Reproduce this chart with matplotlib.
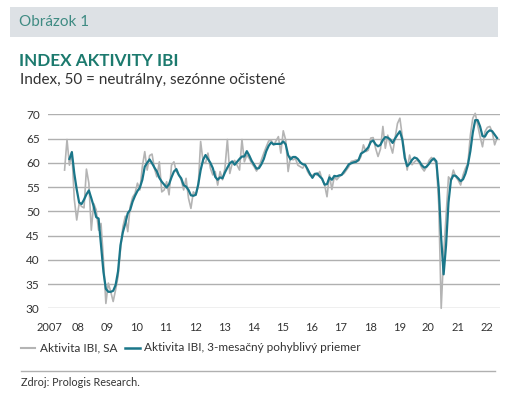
import numpy as np
import matplotlib
matplotlib.use("Agg")
import matplotlib.pyplot as plt
from matplotlib.lines import Line2D
from matplotlib.patches import Rectangle

W, H = 531, 415
plt.rcParams['font.family'] = ['Lato', 'DejaVu Sans']

# ---- data (months counted from Jan 2007 = 0) ----
sa_start_month = 6
sa_values = [
    58.5, 64.8, 59.5, 62.3, 52.5, 48.2,                     # 2007 Jul-Dec
    51.6, 51.0, 50.7, 58.7, 55.8, 46.1, 51.6, 50.3, 46.1, 47.5, 40.0, 31.0,   # 2008
    35.2, 33.4, 31.4, 33.8, 36.5, 42.0, 46.8, 49.0, 45.8, 51.0, 52.9, 53.7,   # 2009
    55.8, 54.4, 59.2, 62.3, 58.5, 61.5, 61.8, 58.8, 57.1, 60.2, 54.0, 54.4,   # 2010
    56.1, 53.4, 59.5, 60.2, 58.2, 57.5, 56.5, 54.4, 56.8, 52.7, 50.6, 54.0,   # 2011
    53.4, 55.1, 64.4, 60.2, 59.9, 62.0, 58.9, 57.5, 58.2, 55.4, 58.2, 56.5,   # 2012
    58.9, 64.8, 57.8, 59.9, 60.5, 59.5, 58.5, 64.8, 60.2, 61.6, 60.9, 59.9,   # 2013
    59.2, 58.3, 59.2, 60.6, 62.0, 63.3, 64.5, 64.7, 63.7, 64.5, 65.4, 62.0,   # 2014
    66.6, 64.7, 58.2, 61.3, 60.6, 60.9, 59.5, 59.2, 58.9, 59.7, 58.2, 57.4,   # 2015
    57.4, 57.8, 57.4, 58.2, 56.5, 55.5, 53.0, 57.5, 54.5, 57.1, 56.5, 57.1,   # 2016
    57.5, 57.8, 58.5, 59.2, 60.3, 60.4, 60.6, 60.4, 61.3, 63.7, 62.3, 62.6,   # 2017
    65.1, 65.2, 63.0, 61.3, 62.8, 67.5, 63.0, 65.7, 63.7, 62.0, 65.1, 68.1,   # 2018
    69.2, 65.4, 62.0, 58.5, 61.6, 59.6, 60.2, 60.6, 60.0, 59.0, 58.3, 59.2,   # 2019
    60.5, 61.1, 60.6, 59.9, 51.3, 30.0, 41.0, 49.2, 57.1, 56.4, 58.5, 57.1,   # 2020
    56.4, 55.4, 57.5, 58.9, 59.9, 65.7, 69.2, 70.2, 67.8, 65.4, 63.3, 66.4,   # 2021
    67.3, 67.5, 66.4, 63.7, 65.1,                                             # 2022
]
ma_start_month = 8
ma_values = [
    60.8, 62.2, 57.8, 54.5,                                                   # 2007 Sep-Dec
    51.8, 51.5, 52.4, 53.5, 54.3, 52.7, 51.0, 48.8, 48.5, 43.0, 37.5, 34.0,   # 2008
    33.4, 33.4, 33.6, 34.8, 37.6, 43.0, 45.7, 47.5, 49.6, 50.3, 52.0, 53.2,   # 2009
    54.2, 54.9, 56.5, 59.2, 60.0, 60.7, 59.9, 59.0, 58.2, 56.9, 56.1, 55.5,   # 2010
    54.9, 55.6, 57.0, 58.2, 58.7, 57.5, 56.8, 55.4, 55.1, 54.4, 53.3, 53.2,   # 2011
    53.4, 55.5, 58.5, 60.6, 61.6, 60.8, 60.0, 58.9, 57.1, 56.5, 57.0, 56.8,   # 2012
    58.0, 59.0, 59.9, 60.3, 59.6, 60.2, 60.8, 61.3, 61.3, 62.4, 61.5, 60.4,   # 2013
    59.6, 58.8, 58.9, 59.7, 60.8, 62.4, 63.5, 64.2, 63.8, 63.9, 63.9, 63.9,   # 2014
    64.4, 63.8, 61.6, 60.7, 61.2, 61.2, 60.8, 60.1, 59.7, 59.6, 58.7, 57.7,   # 2015
    56.9, 57.7, 57.8, 57.2, 56.7, 55.5, 55.6, 57.0, 56.5, 57.3, 57.2, 57.4,   # 2016
    57.5, 58.2, 58.9, 59.7, 59.9, 60.1, 60.2, 60.6, 61.9, 62.2, 62.6, 63.2,   # 2017
    64.3, 64.6, 63.8, 63.4, 63.7, 64.7, 65.3, 65.2, 64.8, 64.1, 65.0, 65.8,   # 2018
    66.5, 64.8, 61.0, 59.3, 59.8, 60.6, 61.1, 60.9, 60.3, 59.5, 59.0, 59.2,   # 2019
    59.8, 60.5, 60.9, 60.3, 54.7, 44.4, 37.0, 43.0, 51.8, 56.4, 57.4, 57.3,   # 2020
    56.8, 56.2, 56.6, 57.8, 59.6, 62.4, 66.2, 68.8, 68.8, 67.5, 65.5, 65.4,   # 2021
    66.3, 66.7, 66.5, 65.8, 65.1,                                             # 2022
]
year_labels = ["2007", "08", "09", "10", "11", "12", "13", "14", "15",
               "16", "17", "18", "19", "20", "21", "22"]
y_ticks = [30, 35, 40, 45, 50, 55, 60, 65, 70]
legend_labels = ["Aktivita IBI, SA", "Aktivita IBI, 3-mesačný pohyblivý priemer"]

GREY = '#b4b4b4'
TEAL = '#1a7689'

fig = plt.figure(figsize=(W / 100, H / 100), dpi=100)


def fx(px):
    return px / W


def fy(py):
    return 1 - py / H


# header band
fig.add_artist(Rectangle((fx(10), fy(36.7)), 488 / W, 30 / H,
                         transform=fig.transFigure, color='#dde1e5', lw=0))
fig.text(fx(19), fy(22), "Obrázok 1", color='#3f8b83', fontsize=11,
         va='center', ha='left')
fig.text(fx(19), fy(60.5), "INDEX AKTIVITY IBI", fontweight='bold',
         color='#1c7a6e', fontsize=12.3, va='center', ha='left')
fig.text(fx(19.5), fy(80), "Index, 50 = neutrálny, sezónne očistené",
         color='#333333', fontsize=11, va='center', ha='left')

# plot
ax = fig.add_axes([fx(48), fy(308.3), (500 - 48) / W, (308.3 - 114.3) / H])
sa_x = np.arange(sa_start_month, sa_start_month + len(sa_values))
ma_x = np.arange(ma_start_month, ma_start_month + len(ma_values))
ax.plot(sa_x, sa_values, color=GREY, lw=1.2, clip_on=False, zorder=2)
ax.plot(ma_x, ma_values, color=TEAL, lw=1.6, clip_on=False, zorder=3)
ax.set_ylim(30, 70)
ax.set_xlim(-0.82, 185.2)
ax.set_yticks(y_ticks)
ax.yaxis.grid(True, color='#b0b0b0', lw=1)
ax.set_axisbelow(True)
for s in ax.spines.values():
    s.set_visible(False)
ax.set_xticks([12 * k - 0.3 for k in range(len(year_labels))])
ax.set_xticklabels(year_labels)
ax.tick_params(length=0)
ax.tick_params(axis='x', pad=9.6, labelsize=8, labelcolor='#333333')
ax.tick_params(axis='y', pad=6, labelsize=8.5, labelcolor='#333333')

# legend
fig.add_artist(Line2D([fx(21), fx(34.5)], [fy(347.5), fy(347.5)],
                      transform=fig.transFigure, color=GREY, lw=1.5))
fig.text(fx(39.5), fy(347.5), legend_labels[0], fontsize=8.5,
         color='#333333', va='center', ha='left')
fig.add_artist(Line2D([fx(125), fx(139.5)], [fy(347.5), fy(347.5)],
                      transform=fig.transFigure, color=TEAL, lw=1.8))
fig.text(fx(144), fy(347.5), legend_labels[1], fontsize=8.5,
         color='#333333', va='center', ha='left')

# separator and source
fig.add_artist(Line2D([fx(21), fx(495)], [fy(371), fy(371)],
                      transform=fig.transFigure, color='#b0b0b0', lw=1))
fig.text(fx(21), fy(382), "Zdroj: Prologis Research.", fontsize=7.8,
         color='#333333', va='center', ha='left')

fig.savefig("out.png", dpi=100)
